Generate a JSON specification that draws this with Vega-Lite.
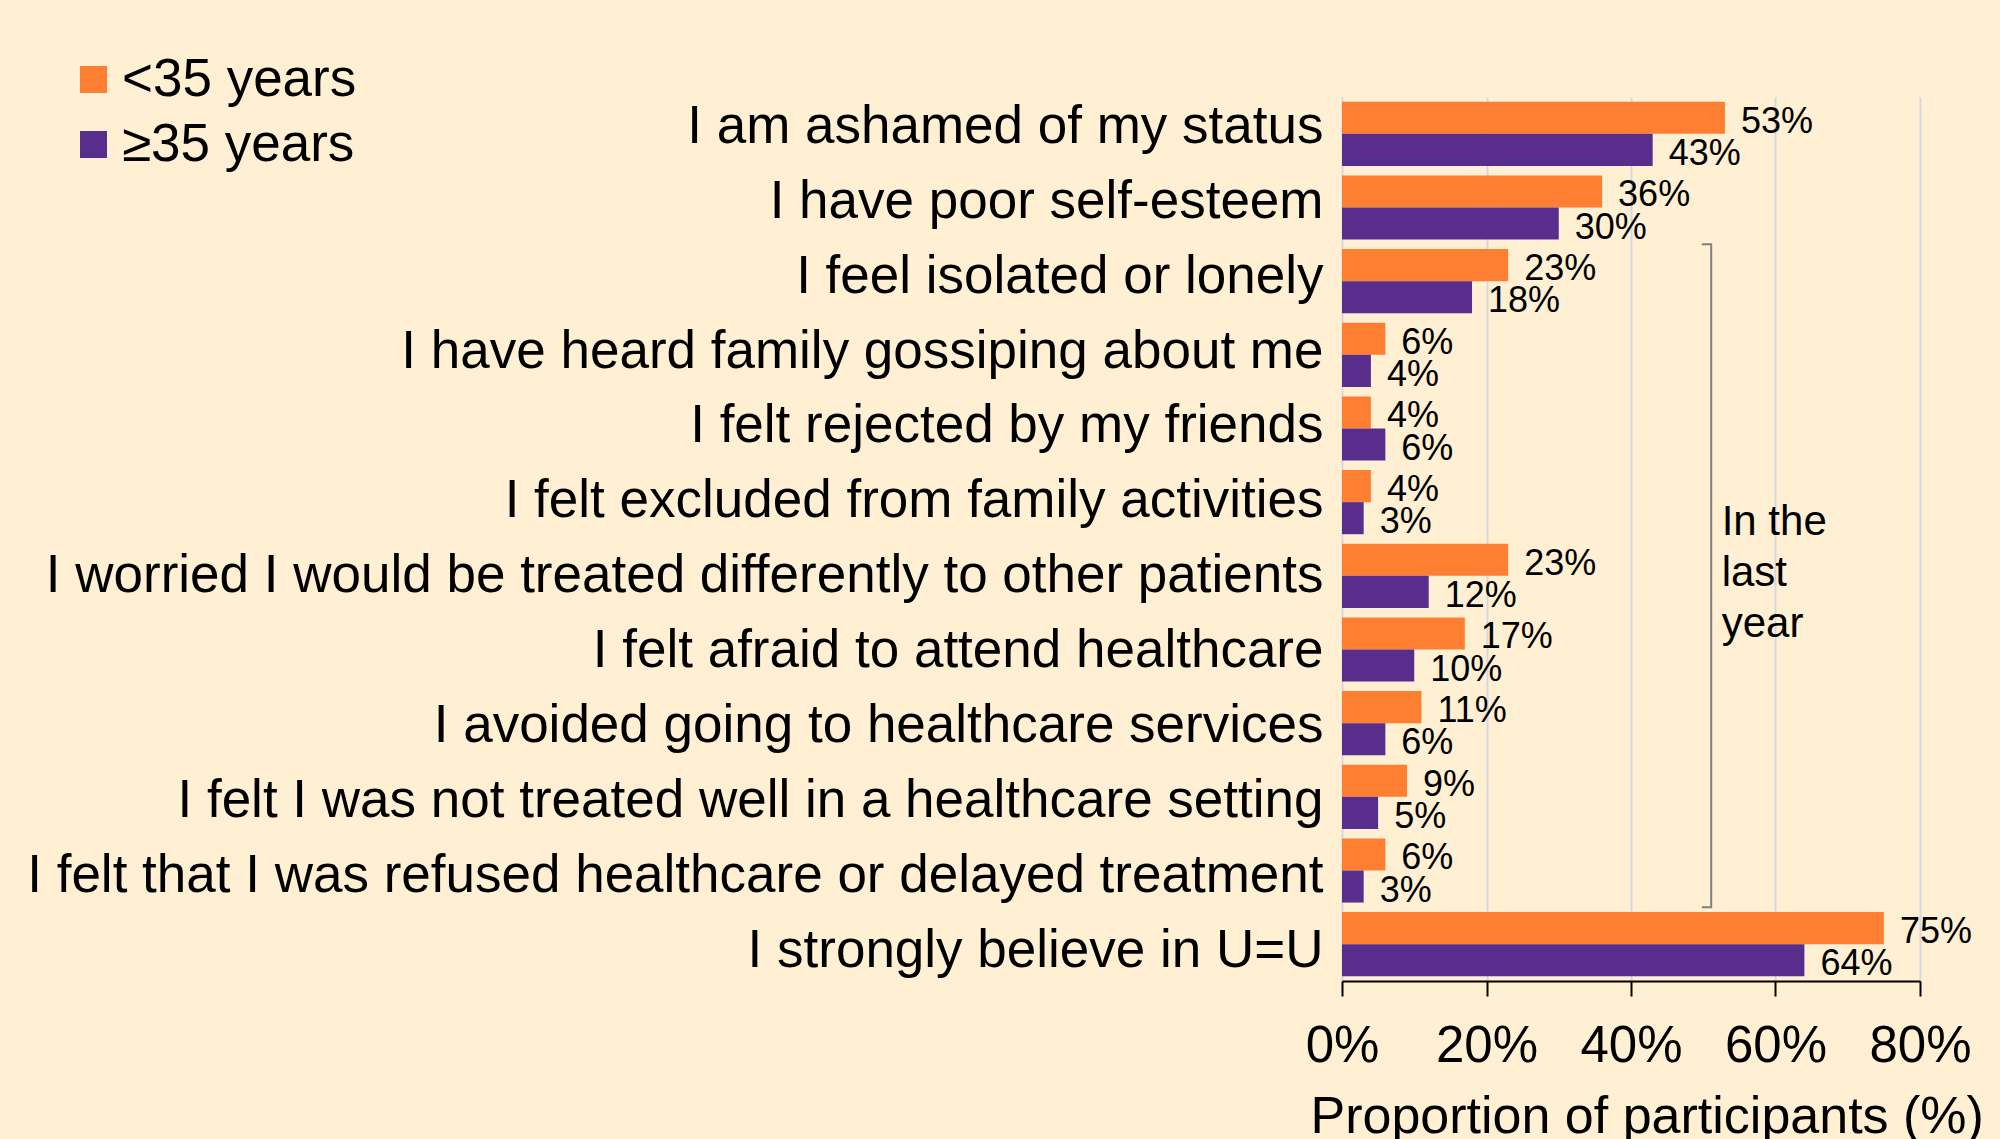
{
  "$schema": "https://vega.github.io/schema/vega-lite/v6.json",
  "width": 578,
  "height": 884,
  "autosize": {"type": "none"},
  "padding": {"left": 1342, "top": 97, "right": 80, "bottom": 158},
  "background": "#FFF0D4",
  "config": {
    "view": {"stroke": null},
    "font": "Liberation Sans",
    "axisX": {
      "grid": true,
      "gridColor": "#D6D7DF",
      "gridWidth": 2,
      "domainColor": "#000000",
      "domainWidth": 2,
      "tickColor": "#000000",
      "tickWidth": 2,
      "tickSize": 15,
      "labelFontSize": 51,
      "labelFont": "Liberation Sans",
      "labelPadding": 25,
      "labelColor": "#000000",
      "labelFlush": false,
      "titleFont": "Liberation Sans",
      "titleFontSize": 52,
      "titleFontWeight": "normal",
      "titleColor": "#000000",
      "titleX": -32,
      "titleY": 151,
      "titleAlign": "left",
      "titleAnchor": "start",
      "titleBaseline": "alphabetic"
    }
  },
  "datasets": {
    "bars": [
      {"cat": "I am ashamed of my status", "group": "<35 years", "value": 0.53},
      {"cat": "I am ashamed of my status", "group": "≥35 years", "value": 0.43},
      {"cat": "I have poor self-esteem", "group": "<35 years", "value": 0.36},
      {"cat": "I have poor self-esteem", "group": "≥35 years", "value": 0.30},
      {"cat": "I feel isolated or lonely", "group": "<35 years", "value": 0.23},
      {"cat": "I feel isolated or lonely", "group": "≥35 years", "value": 0.18},
      {"cat": "I have heard family gossiping about me", "group": "<35 years", "value": 0.06},
      {"cat": "I have heard family gossiping about me", "group": "≥35 years", "value": 0.04},
      {"cat": "I felt rejected by my friends", "group": "<35 years", "value": 0.04},
      {"cat": "I felt rejected by my friends", "group": "≥35 years", "value": 0.06},
      {"cat": "I felt excluded from family activities", "group": "<35 years", "value": 0.04},
      {"cat": "I felt excluded from family activities", "group": "≥35 years", "value": 0.03},
      {"cat": "I worried I would be treated differently to other patients", "group": "<35 years", "value": 0.23},
      {"cat": "I worried I would be treated differently to other patients", "group": "≥35 years", "value": 0.12},
      {"cat": "I felt afraid to attend healthcare", "group": "<35 years", "value": 0.17},
      {"cat": "I felt afraid to attend healthcare", "group": "≥35 years", "value": 0.10},
      {"cat": "I avoided going to healthcare services", "group": "<35 years", "value": 0.11},
      {"cat": "I avoided going to healthcare services", "group": "≥35 years", "value": 0.06},
      {"cat": "I felt I was not treated well in a healthcare setting", "group": "<35 years", "value": 0.09},
      {"cat": "I felt I was not treated well in a healthcare setting", "group": "≥35 years", "value": 0.05},
      {"cat": "I felt that I was refused healthcare or delayed treatment", "group": "<35 years", "value": 0.06},
      {"cat": "I felt that I was refused healthcare or delayed treatment", "group": "≥35 years", "value": 0.03},
      {"cat": "I strongly believe in U=U", "group": "<35 years", "value": 0.75},
      {"cat": "I strongly believe in U=U", "group": "≥35 years", "value": 0.64}
    ],
    "bracket": [
      {"x": 0.498, "row": 2, "o": 1},
      {"x": 0.511, "row": 2, "o": 2},
      {"x": 0.511, "row": 11, "o": 3},
      {"x": 0.498, "row": 11, "o": 4}
    ],
    "note": [
      {"x": 0.5255, "row": 5.5, "text": "In the\nlast\nyear"}
    ]
  },
  "layer": [
    {
      "data": {"name": "bars"},
      "encoding": {
        "y": {
          "field": "cat",
          "type": "nominal",
          "sort": [
            "I am ashamed of my status",
            "I have poor self-esteem",
            "I feel isolated or lonely",
            "I have heard family gossiping about me",
            "I felt rejected by my friends",
            "I felt excluded from family activities",
            "I worried I would be treated differently to other patients",
            "I felt afraid to attend healthcare",
            "I avoided going to healthcare services",
            "I felt I was not treated well in a healthcare setting",
            "I felt that I was refused healthcare or delayed treatment",
            "I strongly believe in U=U"
          ],
          "scale": {"paddingInner": 0.13, "paddingOuter": 0.065},
          "axis": {
            "title": null,
            "domain": false,
            "ticks": false,
            "grid": false,
            "labelFontSize": 53,
            "labelFont": "Liberation Sans",
            "labelPadding": 19,
            "labelLimit": 1600,
            "labelColor": "#000000",
            "labelOffset": {"expr": "-7 + 13.5 * datum.index"}
          }
        },
        "yOffset": {
          "field": "group",
          "type": "nominal",
          "scale": {"domain": ["<35 years", "≥35 years"], "paddingInner": 0, "paddingOuter": 0}
        },
        "x": {
          "field": "value",
          "type": "quantitative",
          "scale": {"domain": [0, 0.8], "nice": false},
          "axis": {"values": [0, 0.2, 0.4, 0.6, 0.8], "format": ".0%", "title": "Proportion of participants (%)"}
        }
      },
      "layer": [
        {
          "mark": {"type": "bar"},
          "encoding": {
            "color": {
              "field": "group",
              "type": "nominal",
              "scale": {"domain": ["<35 years", "≥35 years"], "range": ["#FE7F32", "#582D8C"]},
              "legend": {
                "orient": "none",
                "legendX": -1275,
                "legendY": -44,
                "title": null,
                "padding": 0,
                "symbolType": "square",
                "symbolSize": 729,
                "symbolStrokeWidth": 0,
                "symbolOpacity": 1,
                "labelFontSize": 53,
                "labelFont": "Liberation Sans",
                "labelColor": "#000000",
                "labelOffset": 2,
                "labelLimit": 600,
                "rowPadding": 11
              }
            }
          }
        },
        {
          "mark": {"type": "text", "align": "left", "baseline": "middle", "dx": 16, "dy": 4, "fontSize": 36, "font": "Liberation Sans", "color": "#000000"},
          "encoding": {
            "text": {"field": "value", "type": "quantitative", "format": ".0%"}
          }
        }
      ]
    },
    {
      "layer": [
        {
          "data": {"name": "bracket"},
          "mark": {"type": "line", "color": "#808080", "strokeWidth": 2},
          "encoding": {
            "x": {"field": "x", "type": "quantitative", "scale": {"domain": [0, 0.8], "nice": false}, "axis": {"values": [0, 0.2, 0.4, 0.6, 0.8], "format": ".0%", "title": "Proportion of participants (%)"}},
            "y": {"field": "row", "type": "quantitative", "scale": {"domain": [0, 12], "reverse": true, "nice": false, "zero": false}, "axis": null},
            "order": {"field": "o", "type": "quantitative"}
          }
        },
        {
          "data": {"name": "note"},
          "mark": {"type": "text", "align": "left", "baseline": "top", "fontSize": 42, "lineHeight": 51, "lineBreak": "\n", "font": "Liberation Sans", "color": "#000000"},
          "encoding": {
            "x": {"field": "x", "type": "quantitative", "scale": {"domain": [0, 0.8], "nice": false}, "axis": {"values": [0, 0.2, 0.4, 0.6, 0.8], "format": ".0%", "title": "Proportion of participants (%)"}},
            "y": {"field": "row", "type": "quantitative", "scale": {"domain": [0, 12], "reverse": true, "nice": false, "zero": false}, "axis": null},
            "text": {"field": "text"}
          }
        }
      ]
    }
  ],
  "resolve": {"scale": {"y": "independent"}}
}
